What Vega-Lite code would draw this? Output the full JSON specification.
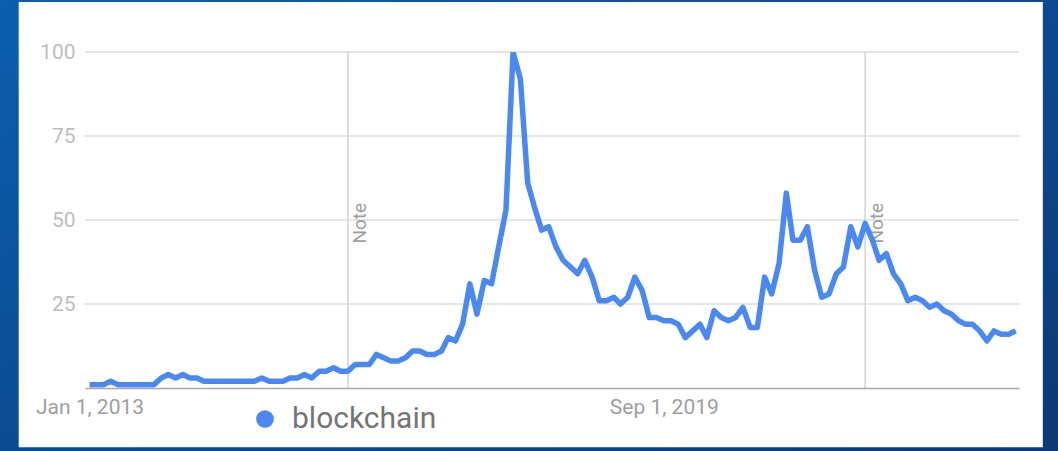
{
  "$schema": "https://vega.github.io/schema/vega-lite/v6.json",
  "autosize": {"type": "none"},
  "width": 934,
  "height": 336,
  "padding": {"left": 85, "top": 52, "right": 39, "bottom": 63},
  "background": "#0b4a90",
  "config": {"font": "Roboto", "view": {"stroke": null}},
  "datasets": {
    "trend": [
      {"date": "2013-01-01", "value": 1}, {"date": "2013-02-01", "value": 1}, {"date": "2013-03-01", "value": 1},
      {"date": "2013-04-01", "value": 2}, {"date": "2013-05-01", "value": 1}, {"date": "2013-06-01", "value": 1},
      {"date": "2013-07-01", "value": 1}, {"date": "2013-08-01", "value": 1}, {"date": "2013-09-01", "value": 1},
      {"date": "2013-10-01", "value": 1}, {"date": "2013-11-01", "value": 3}, {"date": "2013-12-01", "value": 4},
      {"date": "2014-01-01", "value": 3}, {"date": "2014-02-01", "value": 4}, {"date": "2014-03-01", "value": 3},
      {"date": "2014-04-01", "value": 3}, {"date": "2014-05-01", "value": 2}, {"date": "2014-06-01", "value": 2},
      {"date": "2014-07-01", "value": 2}, {"date": "2014-08-01", "value": 2}, {"date": "2014-09-01", "value": 2},
      {"date": "2014-10-01", "value": 2}, {"date": "2014-11-01", "value": 2}, {"date": "2014-12-01", "value": 2},
      {"date": "2015-01-01", "value": 3}, {"date": "2015-02-01", "value": 2}, {"date": "2015-03-01", "value": 2},
      {"date": "2015-04-01", "value": 2}, {"date": "2015-05-01", "value": 3}, {"date": "2015-06-01", "value": 3},
      {"date": "2015-07-01", "value": 4}, {"date": "2015-08-01", "value": 3}, {"date": "2015-09-01", "value": 5},
      {"date": "2015-10-01", "value": 5}, {"date": "2015-11-01", "value": 6}, {"date": "2015-12-01", "value": 5},
      {"date": "2016-01-01", "value": 5}, {"date": "2016-02-01", "value": 7}, {"date": "2016-03-01", "value": 7},
      {"date": "2016-04-01", "value": 7}, {"date": "2016-05-01", "value": 10}, {"date": "2016-06-01", "value": 9},
      {"date": "2016-07-01", "value": 8}, {"date": "2016-08-01", "value": 8}, {"date": "2016-09-01", "value": 9},
      {"date": "2016-10-01", "value": 11}, {"date": "2016-11-01", "value": 11}, {"date": "2016-12-01", "value": 10},
      {"date": "2017-01-01", "value": 10}, {"date": "2017-02-01", "value": 11}, {"date": "2017-03-01", "value": 15},
      {"date": "2017-04-01", "value": 14}, {"date": "2017-05-01", "value": 19}, {"date": "2017-06-01", "value": 31},
      {"date": "2017-07-01", "value": 22}, {"date": "2017-08-01", "value": 32}, {"date": "2017-09-01", "value": 31},
      {"date": "2017-10-01", "value": 42}, {"date": "2017-11-01", "value": 53}, {"date": "2017-12-01", "value": 100},
      {"date": "2018-01-01", "value": 92}, {"date": "2018-02-01", "value": 61}, {"date": "2018-03-01", "value": 54},
      {"date": "2018-04-01", "value": 47}, {"date": "2018-05-01", "value": 48}, {"date": "2018-06-01", "value": 42},
      {"date": "2018-07-01", "value": 38}, {"date": "2018-08-01", "value": 36}, {"date": "2018-09-01", "value": 34},
      {"date": "2018-10-01", "value": 38}, {"date": "2018-11-01", "value": 33}, {"date": "2018-12-01", "value": 26},
      {"date": "2019-01-01", "value": 26}, {"date": "2019-02-01", "value": 27}, {"date": "2019-03-01", "value": 25},
      {"date": "2019-04-01", "value": 27}, {"date": "2019-05-01", "value": 33}, {"date": "2019-06-01", "value": 29},
      {"date": "2019-07-01", "value": 21}, {"date": "2019-08-01", "value": 21}, {"date": "2019-09-01", "value": 20},
      {"date": "2019-10-01", "value": 20}, {"date": "2019-11-01", "value": 19}, {"date": "2019-12-01", "value": 15},
      {"date": "2020-01-01", "value": 17}, {"date": "2020-02-01", "value": 19}, {"date": "2020-03-01", "value": 15},
      {"date": "2020-04-01", "value": 23}, {"date": "2020-05-01", "value": 21}, {"date": "2020-06-01", "value": 20},
      {"date": "2020-07-01", "value": 21}, {"date": "2020-08-01", "value": 24}, {"date": "2020-09-01", "value": 18},
      {"date": "2020-10-01", "value": 18}, {"date": "2020-11-01", "value": 33}, {"date": "2020-12-01", "value": 28},
      {"date": "2021-01-01", "value": 37}, {"date": "2021-02-01", "value": 58}, {"date": "2021-03-01", "value": 44},
      {"date": "2021-04-01", "value": 44}, {"date": "2021-05-01", "value": 48}, {"date": "2021-06-01", "value": 35},
      {"date": "2021-07-01", "value": 27}, {"date": "2021-08-01", "value": 28}, {"date": "2021-09-01", "value": 34},
      {"date": "2021-10-01", "value": 36}, {"date": "2021-11-01", "value": 48}, {"date": "2021-12-01", "value": 42},
      {"date": "2022-01-01", "value": 49}, {"date": "2022-02-01", "value": 44}, {"date": "2022-03-01", "value": 38},
      {"date": "2022-04-01", "value": 40}, {"date": "2022-05-01", "value": 34}, {"date": "2022-06-01", "value": 31},
      {"date": "2022-07-01", "value": 26}, {"date": "2022-08-01", "value": 27}, {"date": "2022-09-01", "value": 26},
      {"date": "2022-10-01", "value": 24}, {"date": "2022-11-01", "value": 25}, {"date": "2022-12-01", "value": 23},
      {"date": "2023-01-01", "value": 22}, {"date": "2023-02-01", "value": 20}, {"date": "2023-03-01", "value": 19},
      {"date": "2023-04-01", "value": 19}, {"date": "2023-05-01", "value": 17}, {"date": "2023-06-01", "value": 14},
      {"date": "2023-07-01", "value": 17}, {"date": "2023-08-01", "value": 16}, {"date": "2023-09-01", "value": 16},
      {"date": "2023-10-01", "value": 17}
    ],
    "grid": [{"g": 25}, {"g": 50}, {"g": 75}, {"g": 100}],
    "notes": [{"date": "2016-01-01", "label": "Note"}, {"date": "2022-01-01", "label": "Note"}]
  },
  "encoding": {
    "x": {
      "type": "temporal",
      "scale": {
        "type": "utc",
        "domain": [
          {"year": 2012, "month": 12, "date": 13, "utc": true},
          {"year": 2023, "month": 10, "date": 15, "utc": true}
        ]
      },
      "axis": {
        "title": null,
        "values": [
          {"year": 2013, "month": 1, "date": 1, "utc": true},
          {"year": 2019, "month": 9, "date": 1, "utc": true}
        ],
        "format": "%b %-d, %Y",
        "grid": false,
        "ticks": false,
        "domainColor": "#a6a6a6",
        "domainWidth": 1.5,
        "labelColor": "#9e9e9e",
        "labelFontSize": 21,
        "labelPadding": 8,
        "labelFlush": false,
        "zindex": 1
      }
    },
    "y": {
      "type": "quantitative",
      "scale": {"domain": [0, 100], "nice": false},
      "axis": {
        "title": null,
        "values": [25, 50, 75, 100],
        "grid": false,
        "ticks": false,
        "domain": false,
        "labelColor": "#bdbdbd",
        "labelFontSize": 21,
        "labelPadding": 10,
        "zindex": 1
      }
    }
  },
  "layer": [
    {
      "data": {"values": [{}]},
      "mark": {
        "type": "rect",
        "clip": false,
        "color": {
          "gradient": "linear", "x1": 0, "y1": 0, "x2": 1, "y2": 1,
          "stops": [{"offset": 0, "color": "#0b5fb0"}, {"offset": 1, "color": "#0d3874"}]
        }
      },
      "encoding": {
        "x": {"datum": {"year": 2011, "month": 12, "date": 1, "utc": true}, "type": "temporal"},
        "x2": {"datum": {"year": 2024, "month": 4, "date": 15, "utc": true}},
        "y": {"datum": 118, "type": "quantitative"},
        "y2": {"datum": -20}
      }
    },
    {
      "data": {"values": [{}]},
      "mark": {"type": "rect", "clip": false, "color": "#ffffff"},
      "encoding": {
        "x": {"datum": {"year": 2012, "month": 3, "date": 7, "utc": true}, "type": "temporal"},
        "x2": {"datum": {"year": 2024, "month": 1, "date": 24, "utc": true}},
        "y": {"datum": 114.9, "type": "quantitative"},
        "y2": {"datum": -17.6}
      }
    },
    {
      "data": {"name": "grid"},
      "mark": {"type": "rule", "color": "#dedede", "strokeWidth": 1.5},
      "encoding": {"y": {"field": "g", "type": "quantitative"}}
    },
    {
      "data": {"name": "notes"},
      "mark": {"type": "rule", "color": "#d4d4d4", "strokeWidth": 1.5},
      "encoding": {"x": {"field": "date", "type": "temporal"}}
    },
    {
      "data": {"name": "notes"},
      "mark": {"type": "text", "angle": 270, "align": "left", "baseline": "top", "dy": 3, "fontSize": 19, "color": "#9e9e9e"},
      "encoding": {
        "x": {"field": "date", "type": "temporal"},
        "y": {"datum": 43, "type": "quantitative"},
        "text": {"field": "label"}
      }
    },
    {
      "data": {"name": "trend"},
      "mark": {"type": "line", "strokeWidth": 5.5, "clip": true, "strokeJoin": "round"},
      "encoding": {
        "x": {"field": "date", "type": "temporal"},
        "y": {"field": "value", "type": "quantitative"},
        "color": {
          "datum": "blockchain",
          "type": "nominal",
          "scale": {"range": ["#4a89f3"]},
          "legend": {
            "title": null,
            "orient": "none",
            "legendX": 165,
            "legendY": 352,
            "padding": 0,
            "symbolType": "circle",
            "symbolSize": 314,
            "symbolFillColor": "#4a89f3",
            "symbolStrokeWidth": 0,
            "labelFontSize": 30,
            "labelColor": "#757575",
            "labelOffset": 12
          }
        }
      }
    }
  ]
}
